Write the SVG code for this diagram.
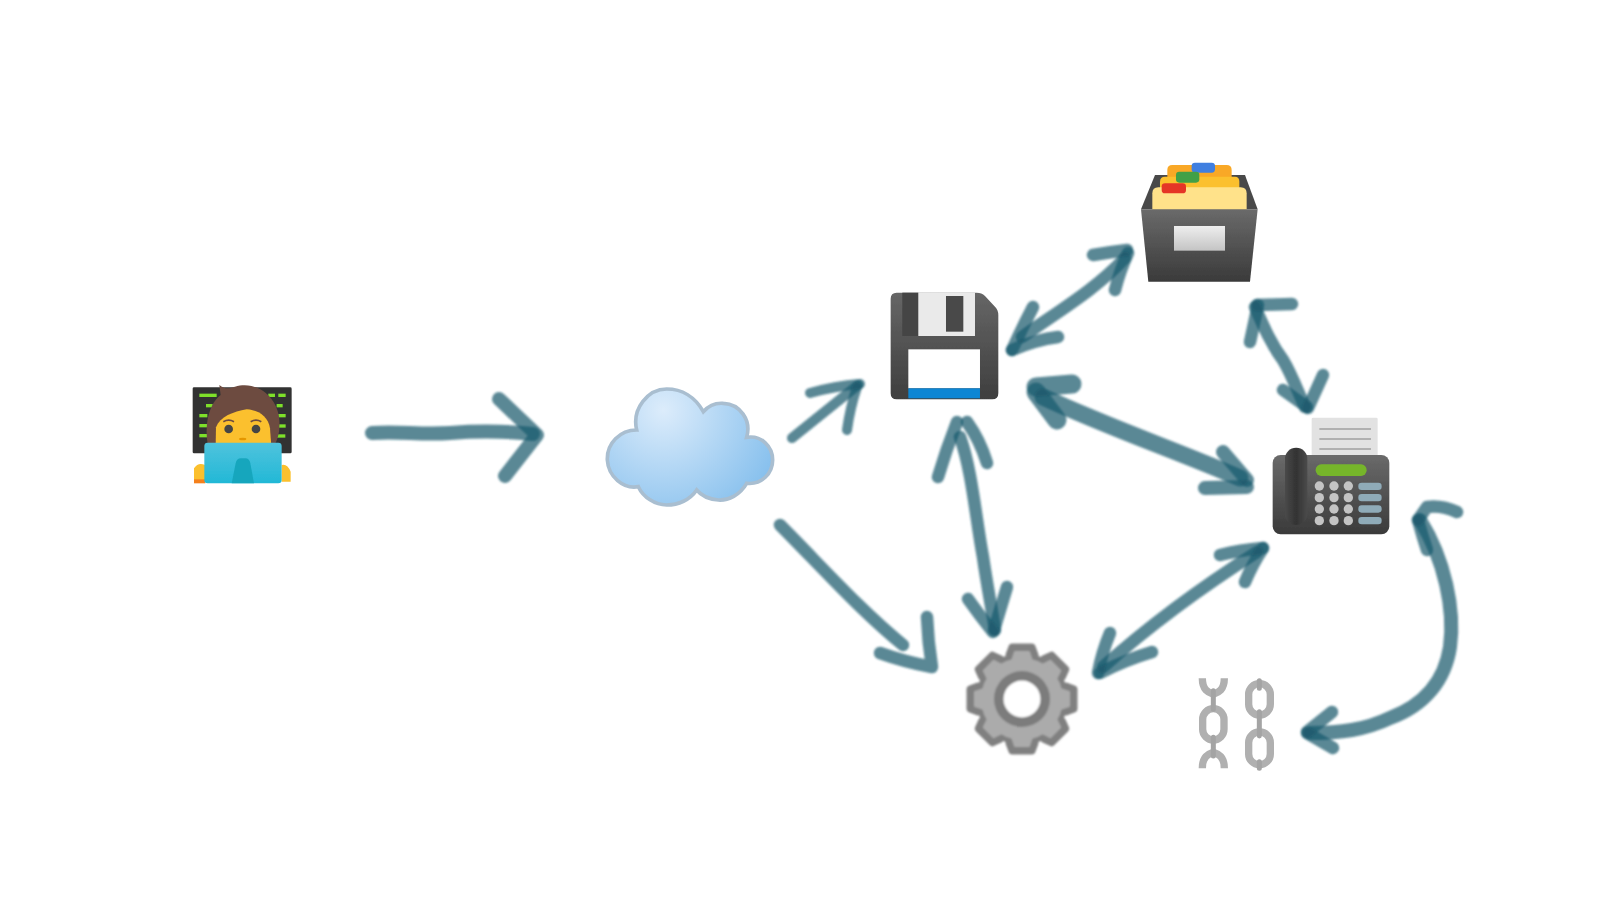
<svg xmlns="http://www.w3.org/2000/svg" width="1600" height="900" viewBox="0 0 1600 900">
<style>
.c path{fill:none;stroke:#1b5a6e;stroke-opacity:.72;stroke-linecap:round;stroke-linejoin:round}
.w8 path{stroke-width:10}.w10 path{stroke-width:12.5}.w12 path{stroke-width:14}
.n{filter:url(#soft)}
.cl2{fill:none;stroke:#b0b0b0;stroke-width:22}
.cl3{fill:none;stroke:#a4a4a4;stroke-width:15;stroke-linecap:round}
.key{fill:#c4c4c4}.bk{fill:#8fabb8}
.gr{fill:#7ee02c}
</style>
<defs>
<filter id="soft" x="-10%" y="-10%" width="120%" height="120%"><feGaussianBlur stdDeviation="1.1"/></filter>
<filter id="softc" x="-10%" y="-10%" width="120%" height="120%"><feGaussianBlur stdDeviation="1"/></filter>
<linearGradient id="dk" x1="0" y1="0" x2="0" y2="1"><stop offset="0" stop-color="#666"/><stop offset="1" stop-color="#3e3e3e"/></linearGradient>
<linearGradient id="dk2" x1="0" y1="0" x2="0" y2="1"><stop offset="0" stop-color="#6a6a6a"/><stop offset="1" stop-color="#3a3a3a"/></linearGradient>
<linearGradient id="hs" x1="0" y1="0" x2="1" y2="0"><stop offset="0" stop-color="#4a4a4a"/><stop offset=".5" stop-color="#333"/><stop offset="1" stop-color="#4a4a4a"/></linearGradient>
<linearGradient id="lab" x1="0" y1="0" x2="0" y2="1"><stop offset="0" stop-color="#eee"/><stop offset="1" stop-color="#c4c4c4"/></linearGradient>
<linearGradient id="lap" x1="0" y1="0" x2="0" y2="1"><stop offset="0" stop-color="#4fc3dd"/><stop offset="1" stop-color="#22b8d6"/></linearGradient>
<radialGradient id="sky" gradientUnits="userSpaceOnUse" cx="190" cy="90" r="400"><stop offset="0" stop-color="#dcecfb"/><stop offset="1" stop-color="#7fbcec"/></radialGradient>
<path id="t1" d="M-13,-44 L-10,-52 L10,-52 L13,-44Z" fill="#808080" stroke="#808080" stroke-width="7" stroke-linejoin="round"/>
<path id="t2" d="M-10,-38 L-7,-47 L7,-47 L10,-38Z" fill="#ababab" stroke="#ababab" stroke-width="2" stroke-linejoin="round"/>
</defs>
<rect width="1600" height="900" fill="#fff"/>

<g id="worker" class="n" transform="translate(170 370) scale(.3333)">
<rect x="68" y="52" width="297" height="198" rx="4" fill="#333"/>
<g class="gr"><rect x="88" y="71" width="52" height="10"/><rect x="108" y="102" width="20" height="10"/><rect x="88" y="132" width="24" height="10"/><rect x="88" y="162" width="24" height="10"/><rect x="88" y="192" width="26" height="10"/><rect x="295" y="71" width="20" height="10"/><rect x="325" y="71" width="22" height="10"/><rect x="320" y="102" width="18" height="10"/><rect x="325" y="132" width="22" height="10"/><rect x="325" y="163" width="22" height="10"/><rect x="320" y="193" width="26" height="10"/></g>
<path d="M72,335 L72,295 Q85,275 105,285 L105,335Z M335,285 Q352,280 362,305 L362,335 L335,335Z" fill="#fbc02d"/>
<rect x="72" y="328" width="34" height="12" fill="#f4801e"/>
<path d="M113,222 C100,140 130,90 152,75 L148,45 C165,60 178,55 195,50 C265,28 335,90 328,170 C328,190 322,210 315,222Z" fill="#6d4c41"/>
<path d="M137,228 L138,172 C150,140 190,125 230,118 C265,120 295,140 300,175 L304,228Z" fill="#fbc02d"/>
<circle cx="176" cy="177" r="13" fill="#444"/><circle cx="258" cy="177" r="13" fill="#444"/>
<path d="M160,155 Q176,146 192,155 M242,155 Q258,146 274,155" fill="none" stroke="#6d4c41" stroke-width="5"/>
<ellipse cx="218" cy="207" rx="11" ry="4" fill="#e59600"/>
<rect x="103" y="218" width="232" height="122" rx="10" fill="url(#lap)"/>
<path d="M185,340 L197,280 Q200,265 213,265 L226,265 Q238,265 241,280 L252,340Z" fill="#17a6bd"/>
</g>

<g id="cloud" class="n" transform="translate(600 380) scale(.3333)">
<path d="M110,150 C95,85 145,27 200,27 C245,27 285,50 310,95 C325,78 345,68 370,70 C420,72 455,120 440,172 C485,165 518,200 518,240 C518,280 485,315 440,310 C420,345 385,362 355,360 C330,358 305,348 290,330 C270,360 235,375 200,375 C165,375 130,352 115,320 C70,328 25,290 22,240 C20,190 60,150 110,150Z" fill="url(#sky)" stroke="#a9bed0" stroke-width="11"/>
</g>

<g id="floppy" class="n" transform="translate(870 280) scale(.3333)">
<path d="M80,38 L320,38 Q335,38 345,48 L375,80 Q385,90 385,105 L385,340 Q385,358 367,358 L80,358 Q62,358 62,340 L62,56 Q62,38 80,38Z" fill="url(#dk)"/>
<rect x="97" y="38" width="48" height="130" fill="#444"/>
<rect x="145" y="38" width="170" height="130" fill="#eaeaea"/>
<rect x="228" y="48" width="52" height="107" fill="#484848"/>
<rect x="115" y="208" width="215" height="117" fill="#fff"/>
<rect x="115" y="325" width="215" height="30" fill="#0f86d4"/>
</g>

<g id="cabinet" class="n" transform="translate(1120 150) scale(.3333)">
<path d="M105,75 L375,75 L413,178 L63,178Z" fill="#4a4a4a"/>
<path d="M142,60 Q142,45 157,45 L320,45 Q335,45 335,60 L335,110 L142,110Z" fill="#f9a825"/>
<rect x="215" y="38" width="70" height="30" rx="10" fill="#3f7fe0"/>
<path d="M120,95 Q120,80 135,80 L345,80 Q358,80 358,95 L358,130 L120,130Z" fill="#fbc02d"/>
<rect x="168" y="65" width="70" height="33" rx="10" fill="#43a047"/>
<path d="M97,130 Q97,112 115,112 L362,112 Q380,112 380,130 L380,180 L97,180Z" fill="#ffe28a"/>
<rect x="125" y="100" width="73" height="30" rx="10" fill="#e53528"/>
<path d="M63,178 L413,178 L390,395 L85,395Z" fill="url(#dk2)"/>
<rect x="162" y="228" width="153" height="74" fill="url(#lab)"/>
</g>

<g id="fax" class="n" transform="translate(1260 405) scale(.3333)">
<rect x="155" y="38" width="198" height="120" rx="4" fill="#e2e2e2"/>
<path d="M178,72 H333 M178,102 H333 M178,132 H333" stroke="#a0a0a0" stroke-width="5" fill="none"/>
<rect x="38" y="150" width="350" height="238" rx="24" fill="url(#dk2)"/>
<rect x="75" y="128" width="67" height="232" rx="33" fill="url(#hs)"/>
<rect x="167" y="178" width="153" height="35" rx="17" fill="#76b52c"/>
<g class="key"><circle cx="178" cy="243" r="14"/><circle cx="222" cy="243" r="14"/><circle cx="265" cy="243" r="14"/><circle cx="178" cy="278" r="14"/><circle cx="222" cy="278" r="14"/><circle cx="265" cy="278" r="14"/><circle cx="178" cy="312" r="14"/><circle cx="222" cy="312" r="14"/><circle cx="265" cy="312" r="14"/><circle cx="178" cy="347" r="14"/><circle cx="222" cy="347" r="14"/><circle cx="265" cy="347" r="14"/></g>
<g class="bk"><rect x="295" y="233" width="70" height="22" rx="10"/><rect x="295" y="267" width="70" height="22" rx="10"/><rect x="295" y="301" width="70" height="22" rx="10"/><rect x="295" y="336" width="70" height="22" rx="10"/></g>
</g>

<g id="gear" class="n" transform="translate(1022 699)">
<use href="#t1"/><use href="#t1" transform="rotate(45)"/><use href="#t1" transform="rotate(90)"/><use href="#t1" transform="rotate(135)"/><use href="#t1" transform="rotate(180)"/><use href="#t1" transform="rotate(225)"/><use href="#t1" transform="rotate(270)"/><use href="#t1" transform="rotate(315)"/>
<circle r="46" fill="#808080"/>
<use href="#t2"/><use href="#t2" transform="rotate(45)"/><use href="#t2" transform="rotate(90)"/><use href="#t2" transform="rotate(135)"/><use href="#t2" transform="rotate(180)"/><use href="#t2" transform="rotate(225)"/><use href="#t2" transform="rotate(270)"/><use href="#t2" transform="rotate(315)"/>
<circle r="41" fill="#ababab"/>
<circle r="28" fill="#7c7c7c"/>
<circle r="18.5" fill="#fff"/>
</g>

<g id="chains" class="n" transform="translate(1180 660) scale(.3333)">
<rect x="68" y="146" width="64" height="94" rx="32" class="cl2"/>
<path d="M67,55 C67,90 85,98 100,103 C115,98 133,90 133,55 M67,325 C67,290 85,282 100,277 C115,282 133,290 133,325" class="cl2"/>
<path d="M100,92 V148 M100,232 V288" class="cl3"/>
<rect x="206" y="71" width="65" height="94" rx="32" class="cl2"/>
<rect x="206" y="216" width="65" height="98" rx="32" class="cl2"/>
<path d="M238,62 V85 M238,155 V228 M238,305 V325" class="cl3"/>
</g>

<g id="connectors" class="c" filter="url(#softc)">
<g class="w12"><path d="M372,433 C400,431 420,435 450,433 C475,431 505,431 533,434"/><path d="M499,399 L537,435 L505,476"/></g>
<g class="w8"><path d="M792,438 L858,385"/><path d="M810,393 Q835,386 860,384"/><path d="M847,430 Q850,408 857,387"/></g>
<g class="w10"><path d="M780,525 C820,565 860,610 903,645"/><path d="M927,617 Q928,642 932,667 Q905,662 880,653"/></g>
<g class="w10"><path d="M960,437 C972,470 976,520 983,557 C987,585 992,610 995,630"/><path d="M938,477 Q946,450 957,422"/><path d="M987,463 Q980,440 967,422"/><path d="M968,599 Q980,616 993,632"/><path d="M1007,587 Q1000,610 994,630"/></g>
<g class="w10"><path d="M1022,337 C1060,310 1095,290 1125,258"/><path d="M1093,255 Q1110,252 1127,250"/><path d="M1115,290 Q1120,270 1128,253"/><path d="M1033,307 Q1022,328 1012,350"/><path d="M1058,337 Q1035,340 1012,350"/></g>
<g class="w10"><path d="M1255,307 C1265,330 1272,345 1283,360 C1292,375 1298,392 1305,407"/><path d="M1292,304 L1257,305"/><path d="M1250,342 L1258,305"/><path d="M1283,390 L1307,407"/><path d="M1323,375 L1308,408"/></g>
<path d="M1043,397 C1110,428 1180,452 1240,478" stroke-width="17"/><path d="M1072,384 L1036,387" stroke-width="19"/><path d="M1057,420 L1036,392" stroke-width="19"/>
<path d="M1223,452 L1247,480" stroke-width="14"/><path d="M1205,488 L1247,487" stroke-width="14"/>
<g class="w10"><path d="M1103,667 C1150,625 1205,585 1257,552"/><path d="M1220,555 Q1240,550 1263,548"/><path d="M1245,582 Q1252,565 1263,548"/><path d="M1110,633 Q1102,652 1098,673"/><path d="M1152,652 Q1125,660 1100,673"/></g>
<path d="M1420,520 C1445,560 1455,610 1450,647 C1445,680 1425,705 1390,718 C1365,730 1340,733 1310,733" stroke-width="14"/>
<g class="w10"><path d="M1457,512 Q1442,505 1427,507 L1418,520"/><path d="M1427,550 Q1422,535 1418,520"/></g>
<g class="w10"><path d="M1332,712 L1307,732"/><path d="M1333,748 L1307,733"/></g>
</g>
</svg>
